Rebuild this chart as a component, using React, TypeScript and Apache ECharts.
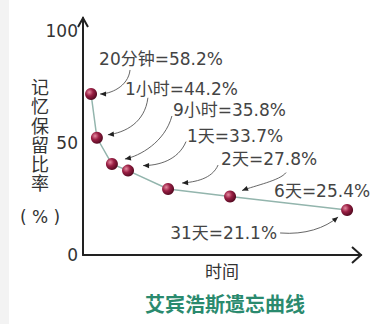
import React, { useEffect, useRef } from 'react';
import * as echarts from 'echarts';

// ---- data ----
const timeLabels = ['20分钟', '1小时', '9小时', '1天', '2天', '6天', '31天'];
const retention = [58.2, 44.2, 35.8, 33.7, 27.8, 25.4, 21.1];
// position of each interval along the (unscaled) time axis, 0..100
const timeAxisPos = [2.9, 5.0, 10.4, 16.2, 30.6, 52.9, 95.0];
const yTickValues = [0, 50, 100];

// ---- callout layout (offsets from each point, px) ----
type Callout = {
  dx: number; dy: number; align: 'left' | 'right';
  tail: number[]; c1: number[]; c2: number[]; head: number[];
};
const callouts: Callout[] = [
  { dx: 8, dy: -35, align: 'left', tail: [39, -24], c1: [37, -7], c2: [19, 0], head: [9, 0] },
  { dx: 28, dy: -49, align: 'left', tail: [51, -40], c1: [48, -15], c2: [28, -5], head: [11, -3] },
  { dx: 61, dy: -54, align: 'left', tail: [60, -48], c1: [53, -22], c2: [28, -8], head: [13, -5] },
  { dx: 59, dy: -35, align: 'left', tail: [58, -29], c1: [50, -10], c2: [30, -5], head: [15, -5] },
  { dx: 53, dy: -30, align: 'left', tail: [50, -24], c1: [44, -10], c2: [27, -7], head: [14, -6] },
  { dx: 44, dy: -6, align: 'left', tail: [56, -24], c1: [50, -16], c2: [25, -11], head: [12, -6] },
  { dx: -70, dy: 23, align: 'right', tail: [-67, 23], c1: [-42, 25], c2: [-22, 18], head: [-9, 7] },
];

const W = 372;
const H = 324;
const GRID = { left: 83, right: 11, top: 18, bottom: 69 };
const FONT = '"DejaVu Sans", "Noto Sans CJK SC", sans-serif';

export default function App() {
  const ref = useRef<HTMLDivElement>(null);

  useEffect(() => {
    if (!ref.current) return;
    const chart = echarts.init(ref.current, undefined, { renderer: 'svg' });

    const x0 = GRID.left;
    const x1 = W - GRID.right;
    const yB = H - GRID.bottom;
    const yT = GRID.top;

    chart.setOption({
      animation: false,
      backgroundColor: '#ffffff',
      title: {
        text: '艾宾浩斯遗忘曲线',
        left: 145,
        top: 293,
        padding: 0,
        textStyle: {
          color: '#2a8a6e',
          fontSize: 20,
          fontWeight: 'bold',
          fontFamily: '"Noto Sans CJK SC", serif',
        },
      },
      grid: { ...GRID, containLabel: false },
      xAxis: {
        type: 'value',
        min: 0,
        max: 100,
        name: '时间',
        nameLocation: 'middle',
        nameGap: 8,
        nameTextStyle: { color: '#333', fontSize: 17, fontFamily: FONT },
        axisLine: { show: true, onZero: false, lineStyle: { color: '#222', width: 2 } },
        axisTick: { show: false },
        axisLabel: { show: false },
        splitLine: { show: false },
      },
      yAxis: [
        {
          type: 'value',
          min: 0,
          max: 106,
          interval: 50,
          axisLine: { show: true, lineStyle: { color: '#222', width: 2 } },
          axisTick: { show: false },
          splitLine: { show: false },
          axisLabel: {
            margin: 5,
            color: '#333',
            fontSize: 17,
            fontFamily: FONT,
            showMaxLabel: false,
            formatter: (v: number) => (yTickValues.includes(v) ? String(v) : ''),
          },
        },
        {
          type: 'value',
          show: false,
          min: 6.7,
          max: 82.5,
          splitLine: { show: false },
        },
      ],
      series: [
        {
          type: 'line',
          xAxisIndex: 0,
          yAxisIndex: 1,
          data: timeAxisPos.map((x, i) => [x, retention[i]]),
          lineStyle: { color: '#93b5ad', width: 1.5 },
          symbol: 'circle',
          symbolSize: 12,
          itemStyle: {
            color: new echarts.graphic.RadialGradient(0.35, 0.35, 0.7, [
              { offset: 0, color: '#e58aa0' },
              { offset: 0.45, color: '#9a1f44' },
              { offset: 1, color: '#4e081e' },
            ]),
            borderWidth: 0,
          },
          z: 3,
        },
      ],
    });

    const pts = timeAxisPos.map((x, i) =>
      chart.convertToPixel({ seriesIndex: 0 }, [x, retention[i]]) as number[]
    );

    const graphics: any[] = [
      // left screenshot strip
      { type: 'rect', shape: { x: 0, y: 0, width: 9, height: H }, style: { fill: '#f3f3f3' }, z: 0 },
      // axis arrow heads
      {
        type: 'polyline',
        shape: { points: [[x1 - 9, yB - 8], [x1, yB], [x1 - 9, yB + 8]] },
        style: { stroke: '#222', lineWidth: 2, fill: null },
      },
      {
        type: 'polyline',
        shape: { points: [[x0 - 5, yT + 9], [x0, yT], [x0 + 5, yT + 9]] },
        style: { stroke: '#222', lineWidth: 2, fill: null },
      },
      // y axis name
      {
        type: 'text',
        x: 40,
        y: 78,
        style: {
          text: '记\n忆\n保\n留\n比\n率',
          fill: '#333',
          fontSize: 18,
          lineHeight: 19.2,
          fontFamily: FONT,
          align: 'center',
          verticalAlign: 'top',
        },
      },
      {
        type: 'text',
        x: 40,
        y: 217,
        style: {
          text: '( % )',
          fill: '#333',
          fontSize: 17,
          fontFamily: FONT,
          align: 'center',
          verticalAlign: 'middle',
        },
      },
    ];

    pts.forEach((p, i) => {
      const c = callouts[i];
      const [px, py] = p;
      graphics.push({
        type: 'text',
        x: px + c.dx,
        y: py + c.dy,
        style: {
          text: `${timeLabels[i]}=${retention[i].toFixed(1)}%`,
          fill: '#444',
          fontSize: 17,
          fontFamily: FONT,
          align: c.align,
          verticalAlign: 'middle',
        },
        z: 5,
      });
      const hx = px + c.head[0];
      const hy = py + c.head[1];
      const cx2 = px + c.c2[0];
      const cy2 = py + c.c2[1];
      graphics.push({
        type: 'bezierCurve',
        shape: {
          x1: px + c.tail[0], y1: py + c.tail[1],
          cpx1: px + c.c1[0], cpy1: py + c.c1[1],
          cpx2: cx2, cpy2: cy2,
          x2: hx, y2: hy,
        },
        style: { stroke: '#555', lineWidth: 0.9, fill: null },
        z: 4,
      });
      // arrow head
      let ux = hx - cx2;
      let uy = hy - cy2;
      const len = Math.hypot(ux, uy) || 1;
      ux /= len; uy /= len;
      const bx = hx - ux * 6;
      const by = hy - uy * 6;
      graphics.push({
        type: 'polygon',
        shape: {
          points: [
            [hx, hy],
            [bx - uy * 2.6, by + ux * 2.6],
            [bx + uy * 2.6, by - ux * 2.6],
          ],
        },
        style: { fill: '#222' },
        z: 4,
      });
    });

    chart.setOption({ graphic: graphics });

    return () => chart.dispose();
  }, []);

  return (
    <div
      ref={ref}
      style={{ position: 'fixed', left: 0, top: 0, width: W, height: H, background: '#fff' }}
    />
  );
}
